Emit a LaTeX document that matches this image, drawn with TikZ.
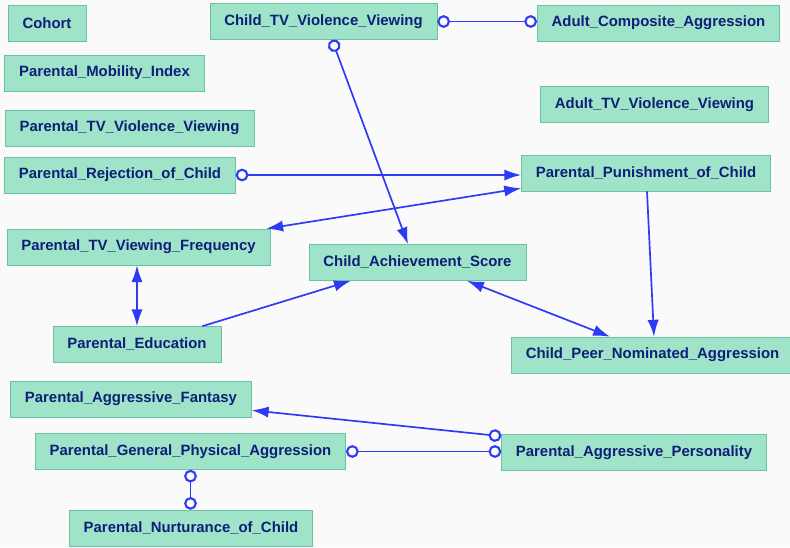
\documentclass[tikz,border=0pt]{standalone}
\definecolor{mintfill}{HTML}{9FE3C8}
\definecolor{mintedge}{HTML}{6CC2A2}
\definecolor{inknavy}{HTML}{0E1F78}
\definecolor{linkblue}{HTML}{2E3BF5}
\usepackage{fontspec}
\setmainfont{Liberation Sans}
\usepackage{tikz}
\usetikzlibrary{arrows.meta,positioning,calc}

\tikzset{
  var/.style={draw=mintedge,fill=mintfill,text=inknavy,font=\fontsize{10.6}{12}\selectfont\bfseries,
    minimum height=0.9cm,inner xsep=0.36cm},
  link/.style={linkblue,line width=1.2pt},
  hoop/.tip={Circle[open,length=9pt,width=9pt,fill=white,line width=1.5pt]},
  head/.tip={Latex[length=12pt,width=8pt]}
}

\begin{document}
\begin{tikzpicture}[x=0.025cm,y=-0.025cm]
  % Canvas
  \fill[gray!4] (0,0) rectangle (790,547);
  \useasboundingbox (0,0) rectangle (790,547);

  % Variables, left column
  \node[var] (cohort) at (47,23) {Cohort};
  \node[var] (mobility) at (104.5,73) {Parental\_Mobility\_Index};
  \node[var] (ptvviol) at (129.5,128) {Parental\_TV\_Violence\_Viewing};
  \node[var] (reject) at (120,175) {Parental\_Rejection\_of\_Child};
  \node[var] (ptvfreq) at (138.5,247) {Parental\_TV\_Viewing\_Frequency};
  \node[var] (educ) at (137,344.5) {Parental\_Education};
  \node[var] (fantasy) at (131,399) {Parental\_Aggressive\_Fantasy};
  \node[var] (physagg) at (190.5,451.5) {Parental\_General\_Physical\_Aggression};
  \node[var] (nurture) at (191,528) {Parental\_Nurturance\_of\_Child};

  % Variables, middle and right
  \node[var] (ctvviol) at (323.5,21.5) {Child\_TV\_Violence\_Viewing};
  \node[var] (adultagg) at (658.5,23) {Adult\_Composite\_Aggression};
  \node[var] (atvviol) at (654.5,104.5) {Adult\_TV\_Violence\_Viewing};
  \node[var] (punish) at (646,173) {Parental\_Punishment\_of\_Child};
  \node[var] (achieve) at (417.5,262.5) {Child\_Achievement\_Score};
  \node[var] (peeragg) at (652.5,355) {Child\_Peer\_Nominated\_Aggression};
  \node[var] (personal) at (634,452.5) {Parental\_Aggressive\_Personality};

  % Links
  \draw[link,hoop-hoop] (ctvviol.east) -- (ctvviol.east -| adultagg.west);
  \draw[link,hoop-head] ($(ctvviol.south)+(8.5,0)$) -- ($(achieve.north)+(-9.5,0)$);
  \draw[link,hoop-head] (reject.east) -- (reject.east -| punish.west);
  \draw[link,head-head] ($(punish.south west)+(0,-3)$) -- ($(ptvfreq.north east)+(-4,0)$);
  \draw[link,-head] ($(punish.south)+(1,0)$) -- ($(peeragg.north)+(1.5,0)$);
  \draw[link,head-head] (educ.north |- ptvfreq.south) -- (educ.north);
  \draw[link,-head] ($(educ.north east)+(-19,0)$) -- ($(achieve.south west)+(42,0)$);
  \draw[link,head-head] ($(achieve.south)+(49.5,0)$) -- ($(peeragg.north)+(-42.5,0)$);
  \draw[link,hoop-head] ($(personal.north west)+(0,2)$) -- ($(fantasy.south east)+(0,-7)$);
  \draw[link,hoop-hoop] (physagg.east) -- (physagg.east -| personal.west);
  \draw[link,hoop-hoop] (physagg.south) -- (physagg.south |- nurture.north);
\end{tikzpicture}
\end{document}
